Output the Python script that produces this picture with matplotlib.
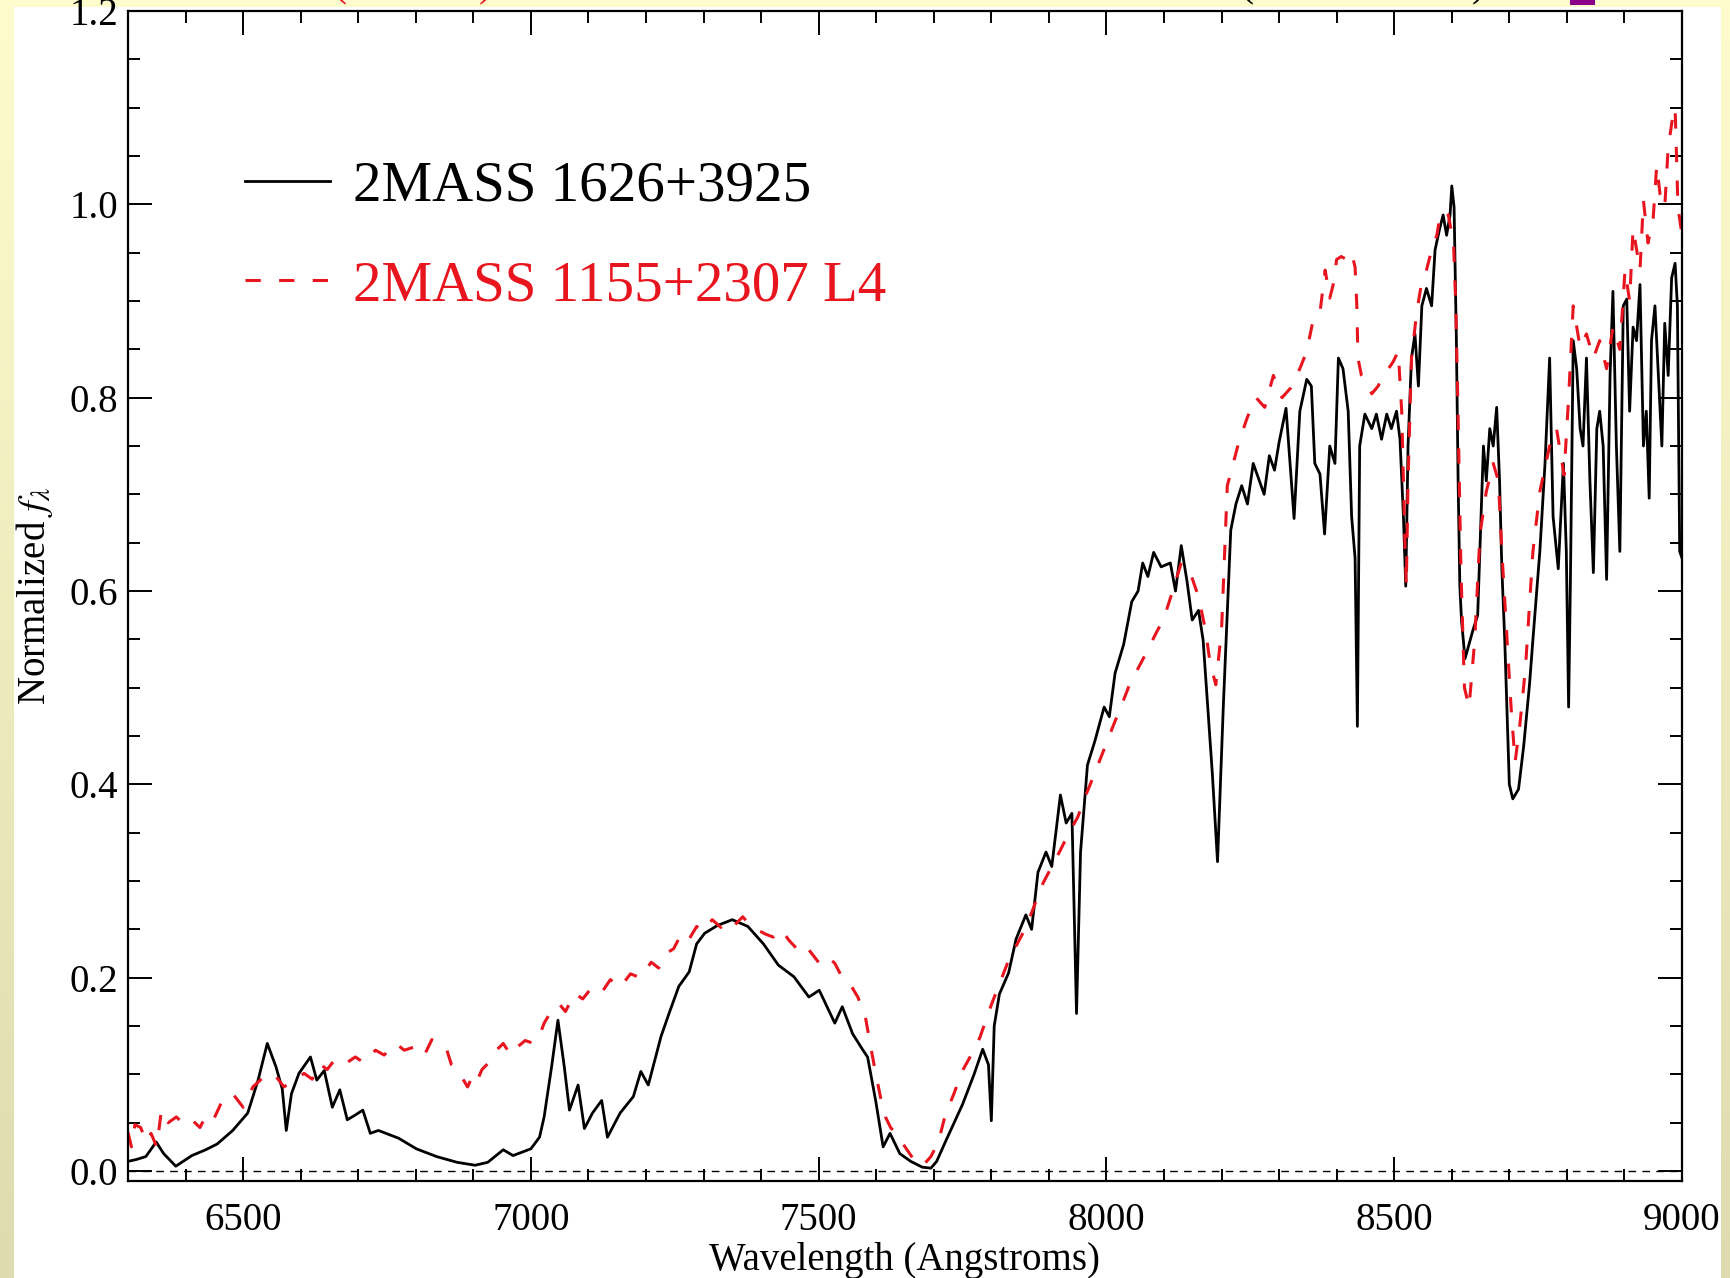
import numpy as np
import matplotlib.pyplot as plt
from matplotlib.patches import Rectangle

plt.rcParams['font.family'] = ['Liberation Serif', 'DejaVu Serif']
plt.rcParams['mathtext.fontset'] = 'stix'

# Spectrum of 2MASS 1626+3925 (wavelength in Angstroms, normalized flux)
wave_1626 = [6300, 6315, 6331, 6349, 6362, 6383, 6411, 6435, 6455, 6482,
             6508, 6526, 6542, 6557, 6568, 6575, 6584, 6597, 6617, 6628,
             6641, 6655, 6668, 6681, 6695, 6708, 6721, 6735, 6748, 6770,
             6801, 6836, 6872, 6903, 6925, 6952, 6969, 7000, 7015, 7023,
             7036, 7047, 7058, 7067, 7082, 7093, 7107, 7123, 7133, 7155,
             7178, 7191, 7204, 7226, 7240, 7257, 7275, 7288, 7302, 7324,
             7350, 7377, 7404, 7430, 7457, 7483, 7501, 7528, 7541, 7559,
             7577, 7585, 7599, 7612, 7624, 7641, 7660, 7680, 7695, 7705,
             7720, 7750, 7770, 7785, 7795, 7800, 7805, 7814, 7830, 7843,
             7860, 7870, 7881, 7895, 7905, 7920, 7930, 7940, 7948, 7955,
             7967, 7980, 7996, 8005, 8015, 8030, 8044, 8055, 8063, 8072,
             8082, 8095, 8111, 8120, 8130, 8140, 8149, 8160, 8168, 8184,
             8193, 8203, 8216, 8225, 8235, 8245, 8255, 8265, 8274, 8283,
             8292, 8300, 8312, 8326, 8336, 8348, 8356, 8362, 8371, 8379,
             8388, 8397, 8403, 8411, 8420, 8426, 8432, 8436, 8440, 8449,
             8461, 8469, 8478, 8487, 8495, 8504, 8510, 8516, 8520, 8524,
             8530, 8536, 8542, 8548, 8556, 8565, 8571, 8579, 8585, 8591,
             8597, 8600, 8604, 8608, 8611, 8614, 8617, 8623, 8630, 8637,
             8645, 8655, 8660, 8666, 8672, 8678, 8683, 8687, 8692, 8700,
             8706, 8716, 8725, 8735, 8741, 8753, 8762, 8770, 8776, 8785,
             8794, 8799, 8803, 8806, 8811, 8817, 8823, 8828, 8834, 8840,
             8846, 8852, 8857, 8863, 8869, 8875, 8880, 8886, 8892, 8898,
             8904, 8909, 8915, 8921, 8927, 8933, 8938, 8943, 8947, 8953,
             8959, 8965, 8970, 8976, 8982, 8988, 8992, 8996, 9000]
flux_1626 = [0.010, 0.012, 0.015, 0.030, 0.018, 0.005, 0.016, 0.022, 0.028, 0.042,
             0.060, 0.094, 0.132, 0.108, 0.085, 0.042, 0.080, 0.101, 0.118, 0.094,
             0.104, 0.066, 0.084, 0.053, 0.058, 0.063, 0.039, 0.042, 0.039, 0.034,
             0.023, 0.015, 0.009, 0.006, 0.009, 0.022, 0.016, 0.023, 0.035, 0.056,
             0.108, 0.156, 0.108, 0.063, 0.089, 0.044, 0.060, 0.073, 0.035, 0.060,
             0.077, 0.103, 0.089, 0.139, 0.163, 0.191, 0.206, 0.235, 0.246, 0.254,
             0.260, 0.253, 0.235, 0.213, 0.201, 0.180, 0.187, 0.153, 0.170, 0.142,
             0.125, 0.118, 0.073, 0.025, 0.039, 0.018, 0.010, 0.004, 0.003, 0.010,
             0.030, 0.069, 0.100, 0.126, 0.110, 0.052, 0.150, 0.183, 0.205, 0.240,
             0.265, 0.250, 0.309, 0.330, 0.315, 0.389, 0.360, 0.370, 0.163, 0.330,
             0.420, 0.445, 0.480, 0.470, 0.515, 0.545, 0.589, 0.600, 0.629, 0.615,
             0.640, 0.625, 0.629, 0.600, 0.647, 0.610, 0.570, 0.580, 0.549, 0.411,
             0.320, 0.480, 0.663, 0.690, 0.709, 0.690, 0.732, 0.715, 0.700, 0.740,
             0.725, 0.754, 0.789, 0.675, 0.786, 0.819, 0.812, 0.732, 0.721, 0.659,
             0.750, 0.732, 0.841, 0.830, 0.786, 0.677, 0.634, 0.460, 0.750, 0.783,
             0.768, 0.783, 0.757, 0.783, 0.768, 0.786, 0.757, 0.677, 0.605, 0.750,
             0.841, 0.866, 0.812, 0.895, 0.913, 0.895, 0.953, 0.975, 0.989, 0.968,
             0.989, 1.019, 0.997, 0.859, 0.714, 0.605, 0.569, 0.530, 0.545, 0.560,
             0.575, 0.750, 0.714, 0.768, 0.750, 0.790, 0.714, 0.623, 0.550, 0.400,
             0.385, 0.395, 0.440, 0.503, 0.550, 0.641, 0.732, 0.841, 0.677, 0.623,
             0.732, 0.641, 0.480, 0.605, 0.859, 0.830, 0.768, 0.750, 0.841, 0.714,
             0.619, 0.768, 0.786, 0.750, 0.612, 0.823, 0.910, 0.750, 0.641, 0.895,
             0.902, 0.786, 0.873, 0.859, 0.917, 0.750, 0.786, 0.696, 0.859, 0.895,
             0.823, 0.750, 0.877, 0.823, 0.924, 0.939, 0.895, 0.641, 0.634]

# Comparison spectrum of 2MASS 1155+2307 (L4)
wave_1155 = [6300, 6306, 6312, 6322, 6332, 6340, 6350, 6358, 6370, 6384,
             6398, 6411, 6425, 6438, 6450, 6464, 6482, 6500, 6517, 6535,
             6553, 6571, 6588, 6606, 6620, 6633, 6646, 6659, 6675, 6695,
             6710, 6730, 6745, 6765, 6780, 6801, 6815, 6828, 6840, 6854,
             6862, 6872, 6882, 6890, 6900, 6907, 6915, 6925, 6940, 6952,
             6965, 6978, 6990, 7005, 7015, 7023, 7035, 7049, 7060, 7076,
             7090, 7102, 7120, 7138, 7155, 7173, 7190, 7209, 7222, 7235,
             7248, 7262, 7275, 7288, 7300, 7315, 7330, 7342, 7355, 7368,
             7380, 7395, 7408, 7421, 7435, 7448, 7462, 7475, 7488, 7501,
             7515, 7528, 7541, 7554, 7568, 7581, 7590, 7599, 7608, 7616,
             7625, 7634, 7650, 7665, 7680, 7695, 7708, 7720, 7735, 7750,
             7765, 7780, 7800, 7815, 7830, 7845, 7860, 7875, 7890, 7905,
             7920, 7935, 7950, 7965, 7980, 7995, 8010, 8025, 8040, 8055,
             8070, 8085, 8100, 8115, 8130, 8145, 8160, 8172, 8180, 8190,
             8200, 8210, 8230, 8245, 8260, 8275, 8290, 8305, 8320, 8336,
             8348, 8359, 8371, 8380, 8388, 8394, 8400, 8408, 8417, 8426,
             8432, 8435, 8437, 8443, 8452, 8461, 8472, 8481, 8490, 8498,
             8507, 8513, 8519, 8521, 8524, 8530, 8539, 8547, 8556, 8565,
             8574, 8579, 8585, 8594, 8603, 8607, 8611, 8616, 8622, 8630,
             8640, 8649, 8660, 8672, 8681, 8687, 8695, 8703, 8710, 8718,
             8728, 8741, 8753, 8770, 8782, 8795, 8803, 8811, 8823, 8834,
             8846, 8857, 8869, 8880, 8892, 8901, 8909, 8915, 8927, 8933,
             8941, 8950, 8956, 8962, 8970, 8976, 8985, 8988, 8993, 9000]
flux_1155 = [0.040, 0.025, 0.048, 0.045, 0.030, 0.039, 0.025, 0.063, 0.050, 0.056,
             0.048, 0.053, 0.045, 0.060, 0.055, 0.073, 0.080, 0.066, 0.087, 0.097,
             0.101, 0.087, 0.094, 0.101, 0.095, 0.111, 0.105, 0.115, 0.110, 0.118,
             0.112, 0.125, 0.120, 0.132, 0.125, 0.129, 0.120, 0.136, 0.128, 0.125,
             0.110, 0.104, 0.095, 0.087, 0.100, 0.094, 0.105, 0.111, 0.125, 0.132,
             0.120, 0.129, 0.135, 0.132, 0.140, 0.153, 0.165, 0.173, 0.165, 0.184,
             0.178, 0.187, 0.182, 0.198, 0.190, 0.204, 0.200, 0.216, 0.210, 0.225,
             0.230, 0.246, 0.240, 0.253, 0.248, 0.260, 0.252, 0.260, 0.255, 0.263,
             0.255, 0.249, 0.245, 0.242, 0.250, 0.239, 0.230, 0.235, 0.225, 0.215,
             0.222, 0.215, 0.200, 0.194, 0.180, 0.160, 0.130, 0.101, 0.075, 0.056,
             0.045, 0.039, 0.025, 0.012, 0.005, 0.015, 0.030, 0.058, 0.080, 0.104,
             0.120, 0.138, 0.172, 0.195, 0.218, 0.235, 0.252, 0.275, 0.298, 0.315,
             0.332, 0.350, 0.366, 0.390, 0.412, 0.435, 0.458, 0.480, 0.503, 0.520,
             0.537, 0.555, 0.572, 0.600, 0.629, 0.620, 0.594, 0.560, 0.526, 0.503,
             0.560, 0.709, 0.754, 0.780, 0.800, 0.790, 0.823, 0.800, 0.810, 0.830,
             0.848, 0.880, 0.888, 0.932, 0.903, 0.917, 0.943, 0.946, 0.943, 0.950,
             0.935, 0.895, 0.841, 0.823, 0.815, 0.804, 0.812, 0.823, 0.830, 0.837,
             0.848, 0.786, 0.641, 0.605, 0.714, 0.841, 0.888, 0.917, 0.932, 0.953,
             0.968, 0.986, 0.993, 0.989, 0.960, 0.895, 0.780, 0.620, 0.500, 0.480,
             0.550, 0.659, 0.703, 0.732, 0.714, 0.641, 0.560, 0.480, 0.423, 0.460,
             0.520, 0.641, 0.703, 0.750, 0.768, 0.720, 0.800, 0.895, 0.852, 0.866,
             0.841, 0.859, 0.830, 0.873, 0.850, 0.932, 0.900, 0.975, 0.932, 1.004,
             0.960, 0.986, 1.040, 1.010, 0.997, 1.059, 1.095, 1.100, 0.997, 0.968]

label_1626 = "2MASS 1626+3925"
label_1155 = "2MASS 1155+2307 L4"
red = "#E8141E"

W, H = 1731, 1278
fig = plt.figure(figsize=(W / 100, H / 100), dpi=100)

# pale yellow page, darker toward the bottom, with a white panel
bg = fig.add_axes([0, 0, 1, 1], zorder=-10)
top_col = np.array([254, 251, 204]) / 255
bot_col = np.array([222, 219, 176]) / 255
t = np.linspace(0, 1, 256)[:, None]
grad = (1 - t) * top_col + t * bot_col
bg.imshow(grad[:, None, :].repeat(2, axis=1), aspect='auto',
          extent=[0, 1, 0, 1], origin='upper')
bg.add_patch(Rectangle((14 / W, 0), (1721 - 14) / W, 1 - 7 / H,
                       facecolor='white', edgecolor='none'))
bg.add_patch(Rectangle((1570 / W, 1 - 5 / H), 25 / W, 5 / H,
                       facecolor='#8B008B', edgecolor='none'))
bg.set_xlim(0, 1)
bg.set_ylim(0, 1)
bg.axis('off')

# tails of the caption line that runs off the top of the page
for xp, s, c in [(340, "(", red), (485, ")", red), (1247, "(", "black"), (1478, ")", "black")]:
    fig.text(xp / W, 1 + 4 / H, s, color=c, fontsize=28, ha='center', va='baseline')

ax = fig.add_axes([128 / W, 1 - 1181 / H, (1682 - 128) / W, (1181 - 11) / H])

ax.plot(wave_1626, flux_1626, color='black', lw=2.0, label=label_1626)
ax.plot(wave_1155, flux_1155, color=red, lw=2.2, linestyle=(0, (5, 6)), label=label_1155)
ax.axhline(0, color='black', lw=1.0, linestyle=(0, (5.5, 4.5)))

ax.set_xlim(6300, 9000)
ax.set_ylim(-0.0103, 1.2)
ax.set_xticks(np.arange(6500, 9001, 500))
ax.set_xticks(np.arange(6300, 9001, 100), minor=True)
ax.set_yticks(np.arange(0, 1.21, 0.2))
ax.set_yticks(np.arange(0, 1.21, 0.05), minor=True)
ax.set_yticklabels(["%.1f" % v for v in np.arange(0, 1.21, 0.2)])

ax.tick_params(which='both', direction='in', top=True, right=True, width=1.4, labelsize=28)
ax.tick_params(which='major', length=17)
ax.tick_params(which='minor', length=8.5)
ax.tick_params(axis='x', pad=15)
ax.tick_params(axis='y', pad=7)
for sp in ax.spines.values():
    sp.set_linewidth(1.6)

ax.set_xlabel("Wavelength (Angstroms)", fontsize=28)
ax.set_ylabel(r"Normalized $f_\lambda$", fontsize=28)
ax.xaxis.set_label_coords(0.5, -0.052)
ax.yaxis.set_label_coords(-0.047, 0.5)

ax.legend(loc='upper left', bbox_to_anchor=(0.0753, 0.872), frameon=False,
          fontsize=41, handlelength=1.5, handletextpad=0.39, labelspacing=0.83,
          borderpad=0, borderaxespad=0, labelcolor='linecolor')

fig.savefig("out.png", dpi=100)
